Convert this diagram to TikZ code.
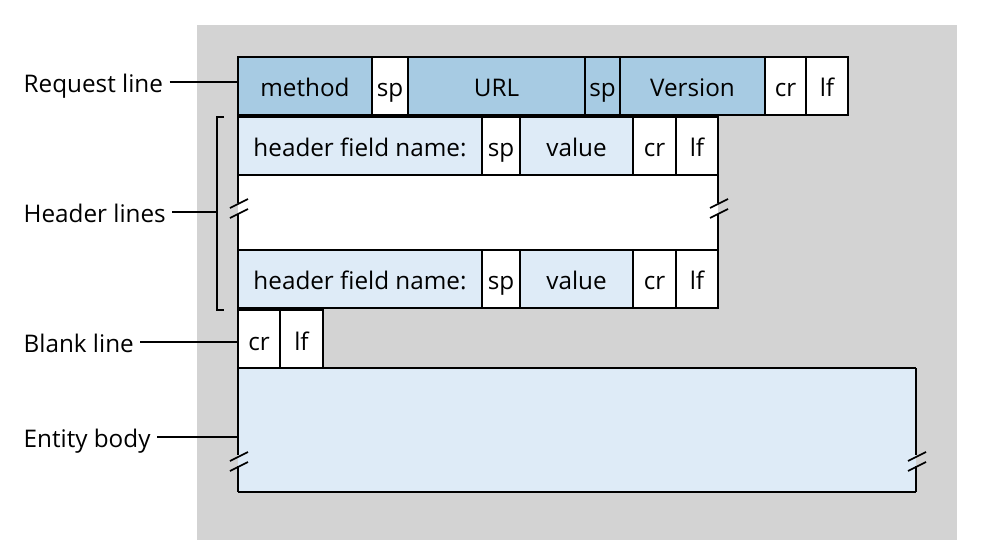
\documentclass[tikz,border=0pt]{standalone}
\usepackage{fontspec}
\setmainfont{Open Sans}
\begin{document}
\begin{tikzpicture}[x=0.01cm,y=-0.01cm,
 txt/.style={inner sep=0pt,font=\fontsize{6.9}{8}\selectfont,text height=1.55ex,text depth=0.4ex},
 lab/.style={txt,anchor=west},
 ln/.style={line width=0.4pt}]
\definecolor{dk}{HTML}{A7CBE3}\definecolor{lt}{HTML}{DEEBF7}\definecolor{bg}{HTML}{D3D3D3}
\useasboundingbox (0,0) rectangle (981,551);
\fill[bg] (197,25) rectangle (957,540);
% request line
\foreach \n/\a/\b/\t/\c in {m/238/372/method/dk,s1/372/408/sp/white,u/408/585/URL/dk,s2/585/620/sp/dk,v/620/765/Version/dk,c1/765/806/cr/white,l1/806/848/lf/white}{
 \filldraw[fill=\c,line width=0.5pt] (\a,57) rectangle (\b,115);
 \node[txt] (\n) at ({(\a+\b)/2},86) {\t};}
% header rows
\foreach \r/\y in {1/117,2/250}{
 \foreach \n/\a/\b/\t/\c in {h/238/482/header field name:/lt,s/482/520/sp/white,v/520/633/value/lt,c/633/676/cr/white,l/676/718/lf/white}{
 \filldraw[fill=\c,line width=0.5pt] (\a,\y) rectangle (\b,\y+58);
 \node[txt] (\n\r) at ({(\a+\b)/2},\y+29) {\t};}}
\fill[white] (238,175) rectangle (718,250);
\draw[line width=0.5pt] (238,175) -- (718,175) (238,250) -- (718,250);
\draw[line width=0.5pt] (238,175) -- (238,203) (238,214) -- (238,250) (718,175) -- (718,203) (718,214) -- (718,250);
\foreach \x in {238,718}{\draw[line width=0.5pt] (\x-8,208)--(\x+10,199) (\x-8,218)--(\x+10,209);}
% blank line
\foreach \n/\a/\b/\t in {bc/238/280/cr,bl/280/323/lf}{
 \filldraw[fill=white,line width=0.5pt] (\a,310) rectangle (\b,368);
 \node[txt] (\n) at ({(\a+\b)/2},340) {\t};}
% entity body
\fill[lt] (238,368) rectangle (916,492);
\draw[line width=0.5pt] (238,368) -- (916,368) (238,492) -- (916,492);
\draw[line width=0.5pt] (238,368) -- (238,455) (238,466) -- (238,492) (916,368) -- (916,455) (916,466) -- (916,492);
\foreach \x in {238,916}{\draw[line width=0.5pt] (\x-8,461)--(\x+10,452) (\x-8,471)--(\x+10,462);}
\coordinate (eb) at (238,437);
% bracket
\draw[ln] (224,117) -- (217,117) -- (217,310) -- (224,310);
\coordinate (br) at (217,212);
% labels
\node[lab] (L1) at (23,82) {Request line};
\node[lab] (L2) at (23,212) {Header lines};
\node[lab] (L3) at (23,342) {Blank line};
\node[lab] (L4) at (23,437) {Entity body};
\coordinate (rl) at (238,82);\coordinate (bk) at (238,342);
\draw[ln] ([xshift=0.06cm]L1.east) -- (rl);
\draw[ln] ([xshift=0.06cm]L2.east) -- (br);
\draw[ln] ([xshift=0.06cm]L3.east) -- (bk);
\draw[ln] ([xshift=0.06cm]L4.east) -- (eb);
\end{tikzpicture}
\end{document}
